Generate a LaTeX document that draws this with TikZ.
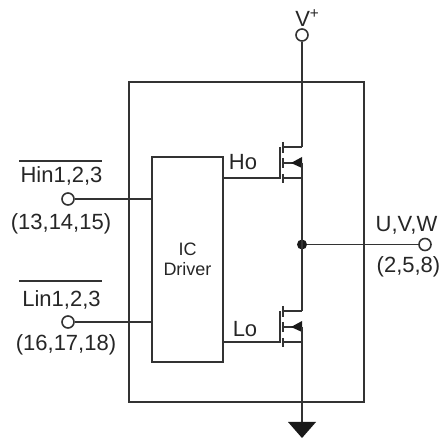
\documentclass[tikz,border=0pt]{standalone}
\usepackage{fontspec}
\setmainfont{Liberation Sans}
\usetikzlibrary{arrows,positioning,calc,shapes}
\tikzset{wire/.style={line width=1.2pt,draw=black!80}}
\tikzset{terminal/.style={
  % The shape:
  circle,
  inner sep=0pt,
  minimum size=9pt,
  % The border:
  line width=1.2pt,
  draw=black!80,
  fill=white,
  }
}
\tikzset{point/.style={circle,inner sep=0pt,minimum size=7.5pt,fill=black!90}}
\tikzset{pinlabel/.style={text=black!85,font=\fontsize{16.5}{18}\selectfont,inner sep=0pt,anchor=base}}
\newcommand{\mosfet}[2]{
  % #1 is the height of the gate lead, #2 the prefix of the names
  \coordinate (#2gate) at (280,#1);
  \coordinate (#2top) at (280,#1-31);
  \coordinate (#2d) at (302,#1-31);
  \coordinate (#2s) at (302,#1);
  \coordinate (#2b) at (302,#1-15);
  \draw[wire] (driver.east|-#2gate) -- (#2gate) -- (#2top);
  \draw[wire,line width=1.5pt] (283,#1-36) -- (283,#1-25);
  \draw[wire,line width=1.5pt] (283,#1-20) -- (283,#1-10);
  \draw[wire,line width=1.5pt] (283,#1-4) -- (283,#1+5);
  \draw[wire] (283,#1-31) -- (#2d);
  \draw[wire] (283,#1) -- (#2s);
  \draw[wire] (283,#1-15) -- (#2b);
  \fill[black!90] (291,#1-15) -- (302,#1-21) -- (302,#1-10) -- cycle;
}
\begin{document}
\begin{tikzpicture}[x=0.75pt,y=-0.75pt]
  \useasboundingbox (0,0) rectangle (443,438);
  % The boxes:
  \node (module) [wire,draw,rectangle,minimum width=176.25pt,minimum height=240pt,inner sep=0pt] at (246.5,242) {};
  \node (driver) [wire,draw,rectangle,minimum width=53.25pt,minimum height=153.75pt,inner sep=0pt,align=center,
    font=\fontsize{13.5}{15}\selectfont,text=black!85] at (187.5,259.5) {IC\\Driver};

  % The transistors:
  \mosfet{178}{hi}
  \mosfet{342}{lo}

  % The terminals:
  \node (vplus) [terminal] at (302,35) {};
  \node (vlabel) [pinlabel,anchor=base west] at (295,27) {V\textsuperscript{+}};
  \node (mid) [point] at (302,244.5) {};
  \node (out) [terminal] at (425,244.5) {};
  \node (outname) [pinlabel] at (406.5,232) {U,V,W};
  \node (outpins) [pinlabel] at (408.5,273) {(2,5,8)};
  \node (hin) [terminal] at (68,199) {};
  \node (hinname) [pinlabel] at (61.5,183) {Hin1,2,3};
  \node (hinpins) [pinlabel] at (61,230) {(13,14,15)};
  \node (lin) [terminal] at (68,322) {};
  \node (linname) [pinlabel] at (61.5,307) {Lin1,2,3};
  \node (linpins) [pinlabel] at (66,351) {(16,17,18)};
  \node (ho) [pinlabel] at (243,170) {Ho};
  \node (lo) [pinlabel] at (245,337) {Lo};
  \coordinate (gnd) at (302,422);

  % The wires:
  \draw[wire] (vplus) -- (hid);
  \draw[wire] (hib) -- (lod);
  \draw[wire] (lob) -- (gnd);
  \draw[wire] (mid) -- (out);
  \draw[wire] (hin) -- (hin-|driver.west);
  \draw[wire] (lin) -- (lin-|driver.west);
  \draw[wire] (19,161) -- (102,161);
  \draw[wire] (19,281) -- (102,281);
  \fill[black!90] (gnd)++(-14,0) -- ++(28,0) -- (302,438) -- cycle;
\end{tikzpicture}
\end{document}
